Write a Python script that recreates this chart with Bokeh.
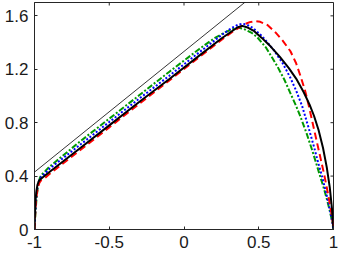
import math
from bokeh.plotting import figure
from bokeh.models import Range1d, LinearAxis, FixedTicker
from bokeh.embed import file_html
from bokeh.resources import INLINE

# ---- data ----
x_ticks = [-1, -0.5, 0, 0.5, 1]
y_ticks = [0, 0.4, 0.8, 1.2, 1.6]
x_tick_labels = {-1: "-1", -0.5: "-0.5", 0: "0", 0.5: "0.5", 1: "1"}
y_tick_labels = {0: "0", 0.4: "0.4", 0.8: "0.8", 1.2: "1.2", 1.6: "1.6"}
X_MIN, X_MAX = -1.0, 1.0
Y_MIN, Y_MAX = 0.0, 1.7

tangent_x = [-1.0, 0.45]
tangent_y = [0.43, 1.74]

black_x = [-1.0, -0.997, -0.993, -0.987, -0.98, -0.972, -0.962, -0.94, -0.9, -0.7, -0.5, -0.3, -0.1,
           0.1, 0.25, 0.32, 0.36, 0.39, 0.42, 0.47, 0.52, 0.58, 0.64, 0.70, 0.75, 0.80, 0.84, 0.87,
           0.90, 0.93, 0.955, 0.975, 0.99, 1.0]
black_y = [0.0, 0.12, 0.22, 0.29, 0.335, 0.36, 0.375, 0.395, 0.43, 0.605, 0.78, 0.955, 1.125,
           1.30, 1.43, 1.485, 1.515, 1.525, 1.515, 1.485, 1.435, 1.37, 1.295, 1.21, 1.13, 1.03, 0.935, 0.85,
           0.745, 0.61, 0.465, 0.315, 0.155, 0.0]

red_x = [-1.0, -0.996, -0.991, -0.984, -0.976, -0.967, -0.955, -0.93, -0.9, -0.7, -0.5, -0.3, -0.1,
         0.1, 0.25, 0.33, 0.40, 0.44, 0.475, 0.51, 0.56, 0.612, 0.66, 0.712, 0.75, 0.779, 0.81, 0.833,
         0.86, 0.89, 0.915, 0.935, 0.955, 0.972, 0.986, 0.995, 1.0]
red_y = [0.0, 0.1, 0.2, 0.27, 0.32, 0.35, 0.37, 0.385, 0.415, 0.59, 0.765, 0.94, 1.115,
         1.29, 1.42, 1.485, 1.535, 1.553, 1.56, 1.555, 1.53, 1.476, 1.415, 1.335, 1.245, 1.15, 1.04, 0.935,
         0.8, 0.65, 0.525, 0.425, 0.315, 0.215, 0.125, 0.055, 0.0]

blue_x = [-1.0, -0.996, -0.99, -0.983, -0.975, -0.966, -0.955, -0.93, -0.9, -0.7, -0.5, -0.3, -0.1,
          0.1, 0.25, 0.32, 0.36, 0.39, 0.42, 0.46, 0.52, 0.60, 0.66, 0.712, 0.75, 0.79, 0.83,
          0.868, 0.90, 0.924, 0.945, 0.965, 0.98, 0.992, 1.0]
blue_y = [0.0, 0.11, 0.22, 0.3, 0.345, 0.375, 0.395, 0.42, 0.455, 0.63, 0.805, 0.98, 1.15,
          1.325, 1.455, 1.51, 1.533, 1.54, 1.535, 1.51, 1.45, 1.345, 1.245, 1.135, 1.04, 0.925, 0.775,
          0.625, 0.49, 0.395, 0.3, 0.205, 0.125, 0.055, 0.0]

green_x = [-1.0, -0.995, -0.988, -0.98, -0.972, -0.963, -0.952, -0.93, -0.9, -0.7, -0.5, -0.3, -0.1,
           0.1, 0.2, 0.28, 0.33, 0.365, 0.40, 0.45, 0.49, 0.55, 0.623, 0.67, 0.712, 0.75, 0.779, 0.82,
           0.857, 0.89, 0.913, 0.935, 0.955, 0.972, 0.988, 1.0]
green_y = [0.0, 0.1, 0.21, 0.3, 0.355, 0.39, 0.41, 0.435, 0.47, 0.655, 0.83, 1.005, 1.18,
           1.35, 1.43, 1.48, 1.502, 1.51, 1.502, 1.475, 1.44, 1.36, 1.225, 1.125, 1.02, 0.925, 0.845, 0.72,
           0.595, 0.475, 0.39, 0.31, 0.23, 0.155, 0.075, 0.0]

AX = "#262626"
FONT = "Liberation Sans"
TICK_IN = 3

p = figure(width=338, height=254, x_range=Range1d(X_MIN, X_MAX), y_range=Range1d(Y_MIN, Y_MAX),
           output_backend="svg", toolbar_location=None,
           min_border_left=34, min_border_right=5, min_border_top=2, min_border_bottom=25,
           x_axis_location=None, y_axis_location=None)
p.grid.visible = False
p.outline_line_color = AX
p.outline_line_width = 1
p.background_fill_color = "white"
p.border_fill_color = "white"

def style(ax, labels, ticks):
    ax.ticker = FixedTicker(ticks=ticks)
    ax.major_label_overrides = labels
    ax.major_tick_in = TICK_IN
    ax.major_tick_out = 0
    ax.minor_tick_line_color = None
    ax.axis_line_color = AX
    ax.major_tick_line_color = AX
    ax.major_label_text_font = FONT
    ax.major_label_text_color = "#1a1a1a"
    ax.major_label_text_font_size = "17px"
    ax.major_label_standoff = 6

bottom = LinearAxis(); style(bottom, x_tick_labels, x_ticks); p.add_layout(bottom, "below")
left = LinearAxis(); style(left, y_tick_labels, y_ticks); p.add_layout(left, "left")

# inward ticks on the top and right edges: dash markers centred on the frame edge
# (the half outside the frame is clipped away)
p.scatter(x=[X_MAX] * len(y_ticks), y=y_ticks, marker="dash", size=2 * TICK_IN,
          line_color=AX, line_width=1)
p.scatter(x=x_ticks, y=[Y_MAX] * len(x_ticks), marker="dash", size=2 * TICK_IN,
          angle=math.pi / 2, line_color=AX, line_width=1)

p.line(tangent_x, tangent_y, line_color="black", line_width=0.8)
p.line(green_x, green_y, line_color="#009900", line_width=2, line_dash="6 2 2 2")
p.line(blue_x, blue_y, line_color="#0000ff", line_width=2, line_dash="2 2")
p.line(red_x, red_y, line_color="#ff0000", line_width=2, line_dash="7 4")
p.line(black_x, black_y, line_color="black", line_width=2)

open("out.html", "w").write(file_html(p, INLINE))
